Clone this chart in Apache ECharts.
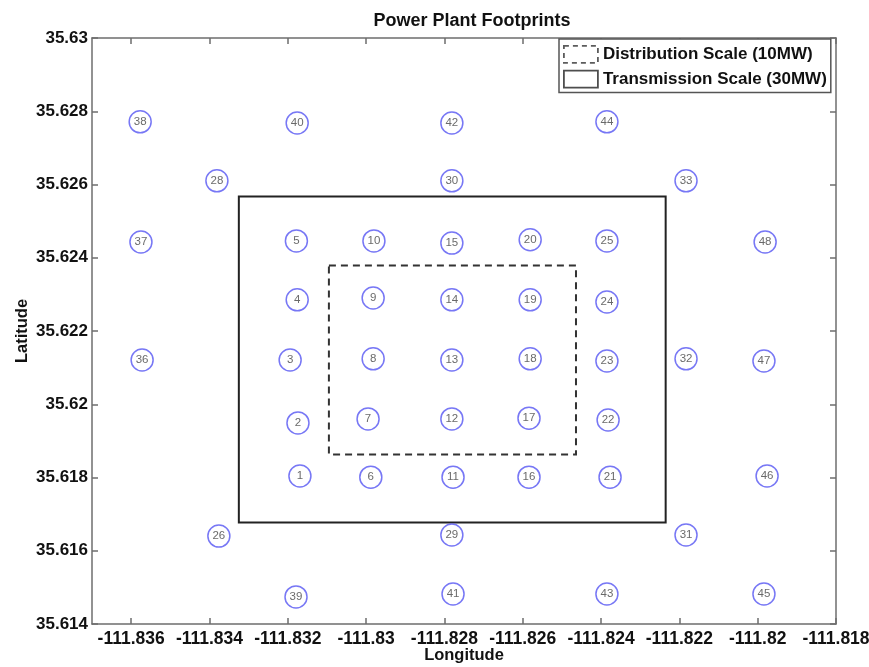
<!DOCTYPE html>
<html><head><meta charset="utf-8">
<script src="https://cdn.jsdelivr.net/npm/echarts@6/dist/echarts.min.js"></script>
<style>html,body{margin:0;padding:0;background:#fff}#c{width:869px;height:667px}</style>
</head><body><div id="c"></div>
<script>
const siteIds = [1,2,3,4,5,6,7,8,9,10,11,12,13,14,15,16,17,18,19,20,21,22,23,24,25,26,28,29,30,31,32,33,36,37,38,39,40,41,42,43,44,45,46,47,48];
const siteLon = [-111.83169,-111.83174,-111.83194,-111.83176,-111.83178,
  -111.82988,-111.82995,-111.82982,-111.82982,-111.82980,
  -111.82778,-111.82781,-111.82781,-111.82781,-111.82781,
  -111.82584,-111.82584,-111.82581,-111.82581,-111.82581,
  -111.82377,-111.82382,-111.82385,-111.82385,-111.82385,
  -111.83376,-111.83381,-111.82781,-111.82781,-111.82183,-111.82183,-111.82183,
  -111.83572,-111.83575,-111.83577,-111.83179,-111.83176,-111.82778,-111.82781,
  -111.82385,-111.82385,-111.81984,-111.81976,-111.81984,-111.81981];
const siteLat = [35.61804,35.61949,35.62121,35.62285,35.62446,
  35.61801,35.61960,35.62124,35.62290,35.62446,
  35.61801,35.61960,35.62121,35.62285,35.62440,
  35.61801,35.61962,35.62124,35.62285,35.62449,
  35.61801,35.61957,35.62118,35.62279,35.62446,
  35.61640,35.62610,35.61643,35.62610,35.61643,35.62124,35.62610,
  35.62121,35.62443,35.62771,35.61474,35.62768,35.61482,35.62768,
  35.61482,35.62771,35.61482,35.61804,35.62118,35.62443];
const xTicks = [-111.836,-111.834,-111.832,-111.83,-111.828,-111.826,-111.824,-111.822,-111.82,-111.818];
const xTickLabels = ['-111.836','-111.834','-111.832','-111.83','-111.828','-111.826','-111.824','-111.822','-111.82','-111.818'];
const yTicks = [35.614,35.616,35.618,35.62,35.622,35.624,35.626,35.628,35.63];
const yTickLabels = ['35.614','35.616','35.618','35.62','35.622','35.624','35.626','35.628','35.63'];
const legendNames = ['Distribution Scale (10MW)','Transmission Scale (30MW)'];
// [lonMin, latMin, lonMax, latMax]
const distBox = [-111.83095, 35.61863, -111.82464, 35.62379];
const transBox = [-111.83325, 35.61677, -111.82235, 35.62567];

const FONT = 'Liberation Sans, Arial, sans-serif';
function lookup(ticks, labels, v) {
  for (let i = 0; i < ticks.length; i++) if (Math.abs(ticks[i] - v) < 1e-7) return labels[i];
  return '';
}
const axisLineStyle = {color: '#6e6e6e', width: 1.5};
const chart = echarts.init(document.getElementById('c'), null, {renderer: 'canvas'});
const boxSeries = (name, box, dash) => ({
  name: name, type: 'scatter', data: [], xAxisIndex: 0, yAxisIndex: 0,
  itemStyle: {color: '#fff', borderColor: '#222', borderWidth: 1.8, borderType: dash ? [7, 5] : 'solid'},
  markArea: {
    silent: true,
    itemStyle: {color: 'rgba(0,0,0,0)', borderColor: dash ? '#333' : '#222', borderWidth: 2, borderType: dash ? [7, 5] : 'solid'},
    data: [[{coord: [box[0], box[3]]}, {coord: [box[2], box[1]]}]]
  }
});
chart.setOption({
  animation: false,
  backgroundColor: '#fff',
  title: {text: 'Power Plant Footprints', left: 467, textAlign: 'center', top: 7,
    textStyle: {fontFamily: FONT, fontSize: 18, fontWeight: 'bold', color: '#111'}},
  grid: {left: 92, right: 33, top: 38, bottom: 43, outerBoundsMode: 'none', containLabel: false},
  legend: {
    orient: 'vertical', left: 559, top: 39, padding: [6, 4, 4, 4], itemGap: 6,
    itemWidth: 34, itemHeight: 17, selectedMode: false,
    backgroundColor: '#fff', borderColor: '#555', borderWidth: 1.5,
    textStyle: {fontFamily: FONT, fontSize: 17, fontWeight: 'bold', color: '#111'},
    data: [
      {name: legendNames[0], icon: 'rect', itemStyle: {color: '#fff', borderColor: '#333', borderWidth: 1.8, borderType: [5, 4]}},
      {name: legendNames[1], icon: 'rect', itemStyle: {color: '#fff', borderColor: '#222', borderWidth: 1.8, borderType: 'solid'}}
    ]
  },
  xAxis: [{
    type: 'value', min: -111.837, max: -111.818, position: 'bottom',
    name: 'Longitude', nameLocation: 'middle', nameGap: 23, nameMoveOverlap: false,
    nameTextStyle: {fontFamily: FONT, fontSize: 16.5, fontWeight: 'bold', color: '#111'},
    axisLine: {show: true, onZero: false, lineStyle: axisLineStyle},
    axisTick: {show: true, inside: true, length: 6, customValues: xTicks, lineStyle: axisLineStyle},
    axisLabel: {show: true, customValues: xTicks, margin: 6, fontFamily: FONT, fontSize: 17.5, fontWeight: 'bold', color: '#111',
      formatter: v => lookup(xTicks, xTickLabels, v)},
    splitLine: {show: false}
  }, {
    type: 'value', min: -111.837, max: -111.818, position: 'top',
    axisLine: {show: true, onZero: false, lineStyle: axisLineStyle},
    axisTick: {show: true, inside: true, length: 6, customValues: xTicks, lineStyle: axisLineStyle},
    axisLabel: {show: false}, splitLine: {show: false}
  }],
  yAxis: [{
    type: 'value', min: 35.614, max: 35.63, position: 'left',
    name: 'Latitude', nameLocation: 'middle', nameGap: 61, nameRotate: 90, nameMoveOverlap: false,
    nameTextStyle: {fontFamily: FONT, fontSize: 16.5, fontWeight: 'bold', color: '#111'},
    axisLine: {show: true, onZero: false, lineStyle: axisLineStyle},
    axisTick: {show: true, inside: true, length: 6, customValues: yTicks, lineStyle: axisLineStyle},
    axisLabel: {show: true, customValues: yTicks, margin: 4, fontFamily: FONT, fontSize: 17, fontWeight: 'bold', color: '#111',
      formatter: v => lookup(yTicks, yTickLabels, v)},
    splitLine: {show: false}
  }, {
    type: 'value', min: 35.614, max: 35.63, position: 'right',
    axisLine: {show: true, onZero: false, lineStyle: axisLineStyle},
    axisTick: {show: true, inside: true, length: 6, customValues: yTicks, lineStyle: axisLineStyle},
    axisLabel: {show: false}, splitLine: {show: false}
  }],
  series: [
    boxSeries(legendNames[0], distBox, true),
    boxSeries(legendNames[1], transBox, false),
    {
      name: 'sites', type: 'scatter', xAxisIndex: 0, yAxisIndex: 0,
      symbol: 'circle', symbolSize: 22,
      itemStyle: {color: 'rgba(255,255,255,0)', borderColor: '#5555f2', borderWidth: 1.5},
      label: {show: true, position: 'inside', fontFamily: FONT, fontSize: 11.5, color: '#444',
        formatter: p => String(p.value[2])},
      data: siteIds.map((id, i) => [siteLon[i], siteLat[i], id])
    }
  ]
});
</script></body></html>
